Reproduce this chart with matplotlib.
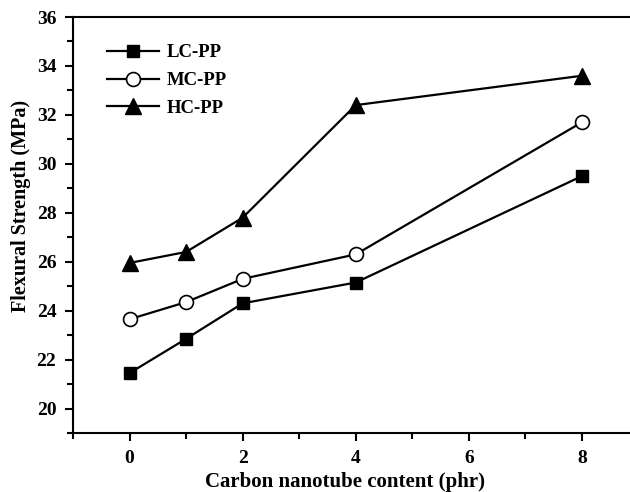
import matplotlib
matplotlib.use("Agg")
import matplotlib.pyplot as plt
from matplotlib.ticker import MultipleLocator

content = [0, 1, 2, 4, 8]
lc_pp = [21.45, 22.85, 24.3, 25.15, 29.5]
mc_pp = [23.65, 24.35, 25.3, 26.3, 31.7]
hc_pp = [25.95, 26.4, 27.8, 32.4, 33.6]

plt.rcParams['font.family'] = ['Liberation Serif', 'DejaVu Serif']
plt.rcParams['font.weight'] = 'bold'

fig = plt.figure(figsize=(6.3, 4.92), dpi=100)
ax = fig.add_axes([0.1159, 0.1199, 0.8976, 0.8455])

ax.plot(content, lc_pp, '-', color='black', lw=1.6, marker='s', ms=9,
        mfc='black', mec='black', label='LC-PP')
ax.plot(content, mc_pp, '-', color='black', lw=1.6, marker='o', ms=10,
        mfc='white', mec='black', mew=1.2, label='MC-PP')
ax.plot(content, hc_pp, '-', color='black', lw=1.6, marker='^', ms=11,
        mfc='black', mec='black', label='HC-PP')

ax.set_xlim(-1, 9)
ax.set_ylim(19, 36)
ax.xaxis.set_major_locator(MultipleLocator(2))
ax.xaxis.set_minor_locator(MultipleLocator(1))
ax.yaxis.set_major_locator(MultipleLocator(2))
ax.yaxis.set_minor_locator(MultipleLocator(1))

for s in ['left', 'bottom', 'top']:
    ax.spines[s].set_linewidth(1.5)
ax.spines['right'].set_visible(False)

ax.tick_params(which='major', direction='out', length=6, width=1.5,
               labelsize=14, pad=6, top=False, right=False)
ax.tick_params(which='minor', direction='out', length=4, width=1.5,
               top=False, right=False)
for lbl in ax.get_xticklabels() + ax.get_yticklabels():
    lbl.set_fontweight('bold')

ax.set_xlabel('Carbon nanotube content (phr)', fontsize=15, fontweight='bold')
ax.set_ylabel('Flexural Strength (MPa)', fontsize=14.5, fontweight='bold')
ax.xaxis.set_label_coords((345 - 73) / (638.5 - 73), -0.093)
ax.yaxis.label.set_verticalalignment('center')
ax.yaxis.set_label_coords(-(73 - 21) / 565.5, 0.545)

leg = ax.legend(loc='upper left', bbox_to_anchor=(0.03, 0.975), frameon=False,
                fontsize=13.5, handlelength=2.8, labelspacing=0.57,
                handletextpad=0.4)
for t in leg.get_texts():
    t.set_fontweight('bold')

fig.savefig('out.png', dpi=100)
